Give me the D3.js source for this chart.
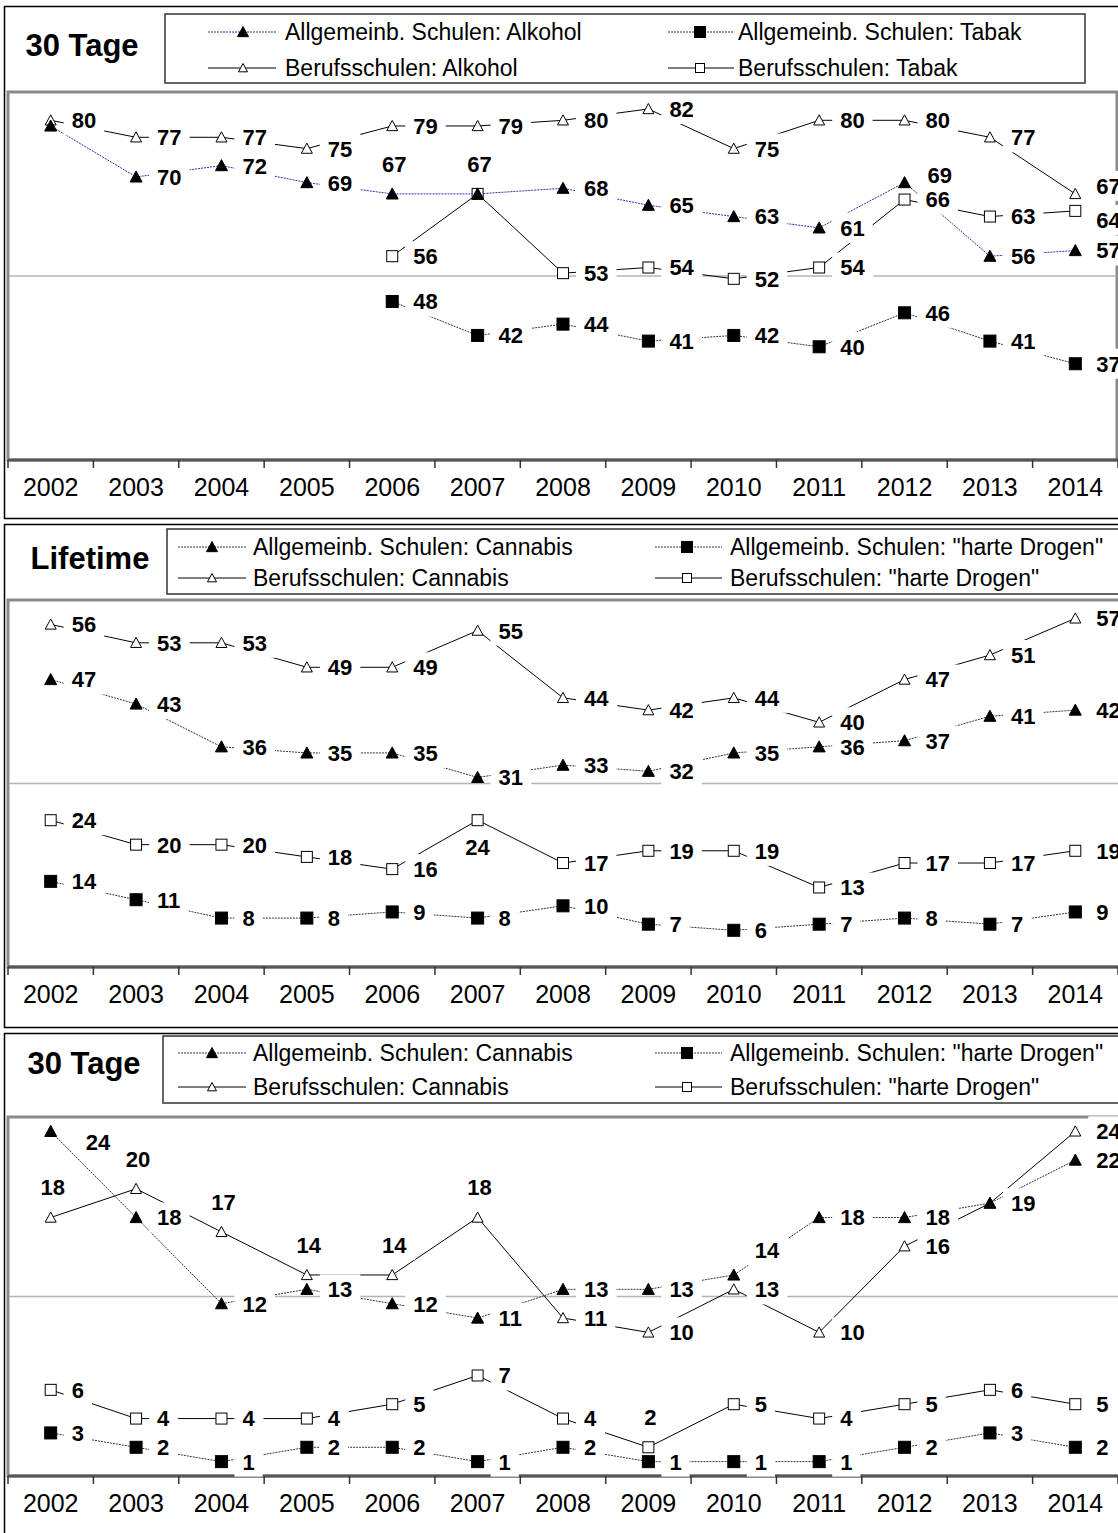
<!DOCTYPE html>
<html>
<head>
<meta charset="utf-8">
<script src="https://cdn.jsdelivr.net/npm/d3@7"></script>
<style>
body{margin:0;background:#fff}
svg{display:block;font-family:Arial,"Liberation Sans",sans-serif}
</style>
</head>
<body>
<svg width="1118" height="1533"></svg>
<script>
// categories
var years = ["2002","2003","2004","2005","2006","2007","2008","2009","2010","2011","2012","2013","2014"];

// panel 1 - 30 Tage, Alkohol / Tabak
var p1SchuleAlkohol = [79,70,72,69,67,67,68,65,63,61,69,56,57];
var p1SchuleTabak   = [null,null,null,null,48,42,44,41,42,40,46,41,37];
var p1BerufAlkohol  = [80,77,77,75,79,79,80,82,75,80,80,77,67];
var p1BerufTabak    = [null,null,null,null,56,67,53,54,52,54,66,63,64];

// panel 2 - Lifetime, Cannabis / harte Drogen
var p2SchuleCannabis = [47,43,36,35,35,31,33,32,35,36,37,41,42];
var p2SchuleHarte    = [14,11,8,8,9,8,10,7,6,7,8,7,9];
var p2BerufCannabis  = [56,53,53,49,49,55,44,42,44,40,47,51,57];
var p2BerufHarte     = [24,20,20,18,16,24,17,19,19,13,17,17,19];

// panel 3 - 30 Tage, Cannabis / harte Drogen
var p3SchuleCannabis = [24,18,12,13,12,11,13,13,14,18,18,19,22];
var p3SchuleHarte    = [3,2,1,2,2,1,2,1,1,1,2,3,2];
var p3BerufCannabis  = [18,20,17,14,14,18,11,10,13,10,16,19,24];
var p3BerufHarte     = [6,4,4,4,5,7,4,2,5,4,5,6,5];

var namesAlkTabak = ["Allgemeinb. Schulen: Alkohol","Allgemeinb. Schulen: Tabak","Berufsschulen: Alkohol","Berufsschulen: Tabak"];
var namesDrogen = ["Allgemeinb. Schulen: Cannabis","Allgemeinb. Schulen: \"harte Drogen\"","Berufsschulen: Cannabis","Berufsschulen: \"harte Drogen\""];

// y axis ranges (no tick labels shown, only the middle gridline)
var p1Range = [20,85], p2Range = [0,60], p3Range = [0,25];

var svg = d3.select("svg");

var xScale = d3.scaleBand().domain(years).range([8,1118]);
function cx(i){ return xScale(years[i]) + xScale.bandwidth()/2; }

// label placement exceptions (default: right of marker)
var labelMode = {
  "p1-0": {0:"none",4:"above",5:"above",10:"upRight2"},
  "p1-2": {12:"rightUp"},
  "p1-3": {5:"none",12:"rightDown"},
  "p2-3": {5:"below"},
  "p3-0": {0:"farRight",8:"upRight"},
  "p3-2": {0:"above",1:"above",2:"above",3:"above",4:"above",5:"above",11:"none"},
  "p3-3": {7:"above"}
};

var panels = [
  {id:"p1", title:"30 Tage", top:6, bottom:518, titleX:82, titleY:45,
   legend:{x0:165,y0:14,x1:1085,y1:83,rows:[32,68],cols:[[208,276,243,285],[668,734,700,738]]},
   plotTop:92, axisY:460, plotRight:1117, range:p1Range,
   names:namesAlkTabak, values:[p1SchuleAlkohol,p1SchuleTabak,p1BerufAlkohol,p1BerufTabak], blueFirst:true},
  {id:"p2", title:"Lifetime", top:524, bottom:1027, titleX:90, titleY:558,
   legend:{x0:167,y0:529,x1:1130,y1:594,rows:[547,578],cols:[[178,246,212,253],[655,722,687,730]]},
   plotTop:600, axisY:967, plotRight:1130, range:p2Range,
   names:namesDrogen, values:[p2SchuleCannabis,p2SchuleHarte,p2BerufCannabis,p2BerufHarte]},
  {id:"p3", title:"30 Tage", top:1033, bottom:1545, titleX:84, titleY:1063,
   legend:{x0:163,y0:1036,x1:1130,y1:1103,rows:[1053,1087],cols:[[178,246,212,253],[655,722,687,730]]},
   plotTop:1117, axisY:1476, plotRight:1130, range:p3Range,
   names:namesDrogen, values:[p3SchuleCannabis,p3SchuleHarte,p3BerufCannabis,p3BerufHarte]}
];

// series styles: 0 filled triangle dotted, 1 filled square dotted, 2 open triangle solid, 3 open square solid
function lineColor(p, s){ return (s===0 && p.blueFirst) ? "#3030b0" : (s<2 ? "#333" : "#000"); }

function drawMarker(g, s, x, y, size){
  var h = size/2;
  if (s===0 || s===2) {
    g.append("path")
      .attr("d","M"+x+","+(y-h)+"L"+(x+h)+","+(y+h*0.85)+"L"+(x-h)+","+(y+h*0.85)+"Z")
      .attr("fill", s===0 ? "#000" : "#fff")
      .attr("stroke","#000").attr("stroke-width",1);
  } else {
    g.append("rect").attr("x",x-h).attr("y",y-h).attr("width",size).attr("height",size)
      .attr("fill", s===1 ? "#000" : "#fff")
      .attr("stroke","#000").attr("stroke-width",1);
  }
}

function addLabel(g, x, y, txt, anchor){
  var lg = g.append("g");
  var t = lg.append("text").attr("x",x).attr("y",y).attr("dy","0.36em")
    .attr("text-anchor",anchor).attr("font-size",22).attr("font-weight","bold").text(txt);
  var bb = t.node().getBBox();
  lg.insert("rect","text").attr("x",bb.x-8).attr("y",y-15).attr("width",bb.width+16).attr("height",30).attr("fill","#fff");
}

panels.forEach(function(p){
  var g = svg.append("g");
  var yScale = d3.scaleLinear().domain(p.range).range([p.axisY, p.plotTop]);

  // outer frame
  g.append("rect").attr("x",4.5).attr("y",p.top+0.5).attr("width",1130).attr("height",p.bottom-p.top)
    .attr("fill","#fff").attr("stroke","#000").attr("stroke-width",1.5);

  // title
  g.append("text").attr("x",p.titleX).attr("y",p.titleY).attr("dy","0.36em").attr("text-anchor","middle")
    .attr("font-size",31).attr("font-weight","bold").text(p.title);

  // legend
  var L = p.legend;
  g.append("rect").attr("x",L.x0).attr("y",L.y0).attr("width",L.x1-L.x0).attr("height",L.y1-L.y0)
    .attr("fill","#fff").attr("stroke","#333").attr("stroke-width",1.5);
  p.names.forEach(function(name, s){
    var row = L.rows[Math.floor(s/2)], col = L.cols[s%2];
    g.append("line").attr("x1",col[0]).attr("x2",col[1]).attr("y1",row).attr("y2",row)
      .attr("stroke",lineColor(p,s)).attr("stroke-width",1)
      .attr("stroke-dasharray", s<2 ? "2,1" : null);
    drawMarker(g, s, col[2], row, s<2 ? 11 : 9);
    g.append("text").attr("x",col[3]).attr("y",row).attr("dy","0.36em")
      .attr("font-size",23).text(name);
  });

  // plot area
  g.append("rect").attr("x",8).attr("y",p.plotTop).attr("width",p.plotRight-8).attr("height",p.axisY-p.plotTop)
    .attr("fill","#fff").attr("stroke","#8a8a8a").attr("stroke-width",3);

  var mid = (p.range[0]+p.range[1])/2;
  g.append("line").attr("x1",9).attr("x2",p.plotRight-1).attr("y1",yScale(mid)).attr("y2",yScale(mid))
    .attr("stroke","#b4b4b4").attr("stroke-width",1.5);

  // x axis
  var axis = g.append("g").attr("transform","translate(0,"+p.axisY+")")
    .call(d3.axisBottom(xScale).tickSize(0).tickPadding(0));
  axis.select(".domain").remove();
  axis.selectAll(".tick text").attr("font-size",25).attr("font-family","Arial, 'Liberation Sans', sans-serif")
    .attr("fill","#000").attr("y",27).attr("dy","0.36em");
  g.append("line").attr("x1",8).attr("x2",1118).attr("y1",p.axisY).attr("y2",p.axisY)
    .attr("stroke","#555").attr("stroke-width",3);
  years.concat(["end"]).forEach(function(d,i){
    var tx = 8 + i*xScale.step();
    g.append("line").attr("x1",tx).attr("x2",tx).attr("y1",p.axisY).attr("y2",p.axisY+8)
      .attr("stroke","#333").attr("stroke-width",1.5);
  });

  // series lines
  var lineGen = d3.line().defined(function(d){return d!==null;})
    .x(function(d,i){return cx(i);}).y(function(d){return yScale(d);});
  [2,3,0,1].forEach(function(s){
    g.append("path").datum(p.values[s]).attr("d",lineGen).attr("fill","none")
      .attr("stroke",lineColor(p,s)).attr("stroke-width",1)
      .attr("stroke-dasharray", s<2 ? "2,1" : null);
  });

  // markers
  [2,3,0,1].forEach(function(s){
    p.values[s].forEach(function(v,i){
      if (v===null) return;
      drawMarker(g, s, cx(i), yScale(v), s<2 ? 12 : 11);
    });
  });

  // data labels
  [2,3,0,1].forEach(function(s){
    var modes = labelMode[p.id+"-"+s] || {};
    p.values[s].forEach(function(v,i){
      if (v===null) return;
      var m = modes[i] || "right", x = cx(i), y = yScale(v);
      if (m==="none") return;
      if (m==="right") addLabel(g, x+21, y, v, "start");
      else if (m==="rightUp") addLabel(g, x+21, y-8, v, "start");
      else if (m==="rightDown") addLabel(g, x+21, y+9, v, "start");
      else if (m==="above") addLabel(g, x+2, y-30, v, "middle");
      else if (m==="below") addLabel(g, x, y+27, v, "middle");
      else if (m==="upRight") addLabel(g, x+21, y-25, v, "start");
      else if (m==="upRight2") addLabel(g, x+23, y-8, v, "start");
      else if (m==="farRight") addLabel(g, x+35, y+11, v, "start");
    });
  });
});
</script>
</body>
</html>
